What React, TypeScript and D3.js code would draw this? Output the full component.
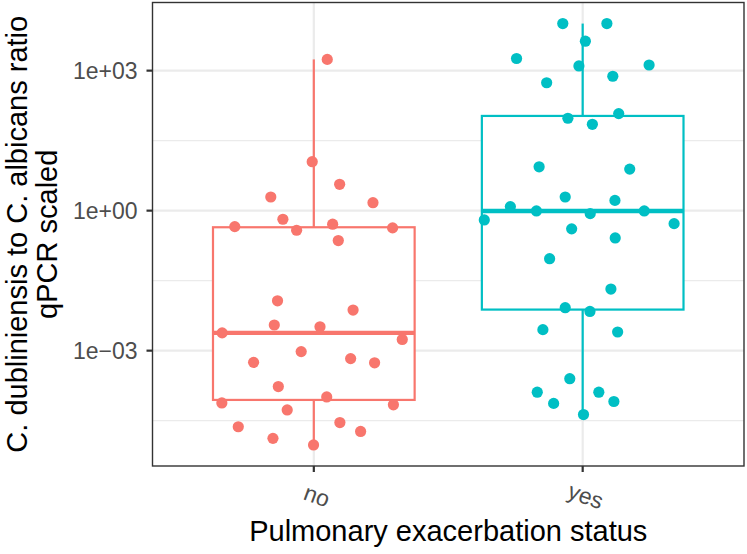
import React from "react";
import * as d3 from "d3";

const categories = ["no", "yes"];
const colors = ["#F8766D", "#00BFC4"];

const noValues = [
  1.74e3, 11.2, 3.67, 1.96, 1.48, 0.655, 0.455, 0.512, 0.38, 0.427, 0.229,
  0.0117, 0.00741, 0.00355, 0.00324, 0.0024, 0.00174, 9.55e-4, 5.62e-4, 6.76e-4,
  5.5e-4, 1.7e-4, 1.02e-4, 7.59e-5, 6.92e-5, 5.37e-5, 2.88e-5, 2.34e-5, 1.86e-5,
  1.32e-5, 9.55e-6,
];
const noJitter = [
  0.05, -0.006, 0.096, -0.16, 0.22, -0.115, -0.294, 0.07, -0.064, 0.293, 0.091,
  -0.135, 0.146, -0.147, 0.023, -0.341, 0.329, -0.047, -0.224, 0.137, 0.226,
  -0.132, 0.048, -0.342, 0.296, -0.099, 0.097, -0.281, 0.174, -0.152, -0.001,
];

const yesValues = [
  1.02e4, 1.02e4, 4.27e3, 1.82e3, 1.26e3, 1.32e3, 759, 550, 95.5, 120, 70.8,
  8.71, 7.76, 1.96, 1.66, 1.22, 0.986, 0.863, 0.986, 0.632, 0.527, 0.407, 0.26,
  0.0933, 0.0209, 0.00832, 0.00692, 0.00282, 0.00251, 2.51e-4, 1.29e-4, 1.29e-4,
  7.41e-5, 8.13e-5, 4.27e-5,
];
const yesJitter = [
  -0.074, 0.09, 0.01, -0.246, -0.014, 0.247, 0.112, -0.134, -0.055, 0.134, 0.036,
  -0.162, 0.175, -0.065, 0.12, -0.269, -0.172, 0.028, 0.229, -0.366, 0.34, -0.041,
  0.121, -0.123, 0.105, -0.065, 0.027, -0.148, 0.13, -0.048, -0.169, 0.06, -0.108,
  0.116, 0.003,
];

const yTickValues = [1e-3, 1, 1e3];
const yTickLabels = ["1e\u221203", "1e+00", "1e+03"];
const yMinorValues = [Math.pow(10, -4.5), Math.pow(10, -1.5), Math.pow(10, 1.5), Math.pow(10, 4.5)];

const xTitle = "Pulmonary exacerbation status";
const yTitle1 = "C. dubliniensis to C. albicans ratio";
const yTitle2 = "qPCR scaled";

const W = 747;
const H = 554;
const panel = { left: 152.5, right: 744, top: 2.5, bottom: 466 };
const FONT = "'Liberation Sans', Arial, Helvetica, sans-serif";

function boxStats(values: number[]) {
  const logs = values.map((v) => Math.log10(v)).sort((a, b) => a - b);
  const q1 = d3.quantile(logs, 0.25)!;
  const med = d3.quantile(logs, 0.5)!;
  const q3 = d3.quantile(logs, 0.75)!;
  const iqr = q3 - q1;
  const lo = d3.min(logs.filter((v) => v >= q1 - 1.5 * iqr))!;
  const hi = d3.max(logs.filter((v) => v <= q3 + 1.5 * iqr))!;
  const p = (l: number) => Math.pow(10, l);
  return { q1: p(q1), med: p(med), q3: p(q3), lo: p(lo), hi: p(hi) };
}

export default function App() {
  const groups = [
    { cat: categories[0], values: noValues, jitter: noJitter, color: colors[0] },
    { cat: categories[1], values: yesValues, jitter: yesJitter, color: colors[1] },
  ];
  const allLogs = [...noValues, ...yesValues].map((v) => Math.log10(v));
  const lmin = d3.min(allLogs)!;
  const lmax = d3.max(allLogs)!;
  const pad = (lmax - lmin) * 0.05;

  const y = d3
    .scaleLog()
    .domain([Math.pow(10, lmin - pad), Math.pow(10, lmax + pad)])
    .range([panel.bottom, panel.top]);
  const x = d3.scalePoint<string>().domain(categories).range([panel.left, panel.right]).padding(0.6);
  const step = x.step();
  const boxHalf = step * 0.375;

  const cx = (panel.left + panel.right) / 2;
  const cy = (panel.top + panel.bottom) / 2;

  return (
    <svg
      width={W}
      height={H}
      style={{ position: "absolute", left: 0, top: 0, background: "white" }}
      fontFamily={FONT}
    >
      <rect x={0} y={0} width={W} height={H} fill="white" />
      {/* grid */}
      <g>
        {yMinorValues
          .filter((v) => y(v) >= panel.top && y(v) <= panel.bottom)
          .map((v, i) => (
            <line key={"mn" + i} x1={panel.left} x2={panel.right} y1={y(v)} y2={y(v)} stroke="#EBEBEB" strokeWidth={1.1} />
          ))}
        {yTickValues.map((v, i) => (
          <line key={"mj" + i} x1={panel.left} x2={panel.right} y1={y(v)} y2={y(v)} stroke="#EBEBEB" strokeWidth={2.2} />
        ))}
        {categories.map((c) => (
          <line key={"gx" + c} x1={x(c)} x2={x(c)} y1={panel.top} y2={panel.bottom} stroke="#EBEBEB" strokeWidth={2.2} />
        ))}
      </g>
      {/* boxplots */}
      {groups.map((g) => {
        const s = boxStats(g.values);
        const xc = x(g.cat)!;
        return (
          <g key={"box" + g.cat} stroke={g.color} fill="white">
            <line x1={xc} x2={xc} y1={y(s.q3)} y2={y(s.hi)} strokeWidth={2.2} />
            <line x1={xc} x2={xc} y1={y(s.q1)} y2={y(s.lo)} strokeWidth={2.2} />
            <rect
              x={xc - boxHalf}
              y={y(s.q3)}
              width={boxHalf * 2}
              height={y(s.q1) - y(s.q3)}
              strokeWidth={2.2}
            />
            <line x1={xc - boxHalf} x2={xc + boxHalf} y1={y(s.med)} y2={y(s.med)} strokeWidth={4.4} />
          </g>
        );
      })}
      {/* points */}
      {groups.map((g) => (
        <g key={"pts" + g.cat} fill={g.color}>
          {g.values.map((v, i) => (
            <circle key={i} cx={x(g.cat)! + g.jitter[i] * step} cy={y(v)} r={5.6} />
          ))}
        </g>
      ))}
      {/* panel border */}
      <rect
        x={panel.left}
        y={panel.top}
        width={panel.right - panel.left}
        height={panel.bottom - panel.top}
        fill="none"
        stroke="#333333"
        strokeWidth={1.4}
      />
      {/* y axis */}
      {yTickValues.map((v, i) => (
        <g key={"yt" + i}>
          <line x1={panel.left - 6} x2={panel.left} y1={y(v)} y2={y(v)} stroke="#333333" strokeWidth={2.2} />
          <text
            x={panel.left - 15}
            y={y(v)}
            dy="0.36em"
            textAnchor="end"
            fontSize={23}
            fill="#4D4D4D"
          >
            {yTickLabels[i]}
          </text>
        </g>
      ))}
      {/* x axis */}
      {categories.map((c) => (
        <g key={"xt" + c}>
          <line x1={x(c)} x2={x(c)} y1={panel.bottom} y2={panel.bottom + 6} stroke="#333333" strokeWidth={2.2} />
          <text
            transform={`translate(${x(c)! + 6},${panel.bottom + 22}) rotate(20)`}
            dy="0.71em"
            textAnchor="middle"
            fontSize={23}
            fill="#4D4D4D"
          >
            {c}
          </text>
        </g>
      ))}
      {/* titles */}
      <text x={cx} y={541} textAnchor="middle" fontSize={29} fill="black">
        {xTitle}
      </text>
      <g transform={`translate(27,${cy}) rotate(-90)`}>
        <text x={0} y={0} textAnchor="middle" fontSize={29} fill="black">
          {yTitle1}
        </text>
        <text x={0} y={29.5} textAnchor="middle" fontSize={29} fill="black">
          {yTitle2}
        </text>
      </g>
    </svg>
  );
}
